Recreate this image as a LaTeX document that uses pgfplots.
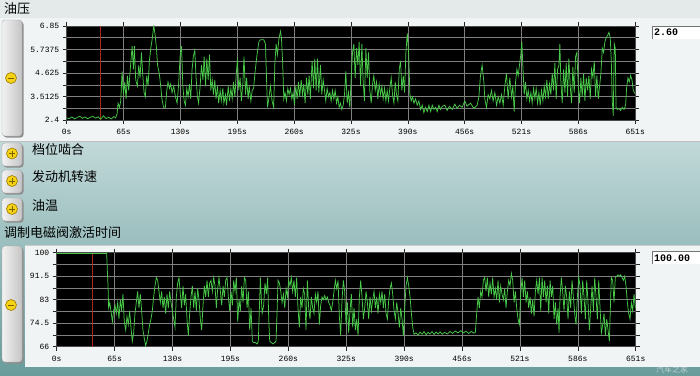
\documentclass[border=0pt]{standalone}
\usepackage{pgfplots}
\pgfplotsset{compat=1.18}
\usepackage{fontspec}
\setmainfont{Liberation Sans}
\setmonofont{Liberation Mono}
\newfontfamily\cjk{Noto Sans CJK SC}
\definecolor{hdrbg}{HTML}{E4EAEA}
\definecolor{panelbg}{HTML}{F1F4F4}
\definecolor{tealtop}{HTML}{C2D9D9}
\definecolor{tealbot}{HTML}{6A9C9C}
\definecolor{btnL}{HTML}{F2F2F2}
\definecolor{btnR}{HTML}{C4C4C4}
\definecolor{yelF}{HTML}{F5D215}
\definecolor{yelD}{HTML}{9A7A00}
\definecolor{gridc}{HTML}{808080}
\definecolor{plotgreen}{RGB}{72,200,72}
\definecolor{redline}{RGB}{170,40,30}
\pgfplotsset{
  monitor/.style={
    scale only axis, height=94pt,
    axis background/.style={fill=black},
    xmin=0, xmax=651,
    xtick={0,65.1,130.2,195.3,260.4,325.5,390.6,455.7,520.8,585.9,651},
    xticklabels={0s,65s,130s,195s,260s,325s,390s,456s,521s,586s,651s},
    grid=both,
    major grid style={gridc, line width=0.5pt},
    minor grid style={gridc, line width=0.5pt},
    tick align=outside,
    major tick length=4pt, minor tick length=4pt,
    tick style={black!85, line width=0.5pt},
    axis line style={black!70, line width=0.5pt},
    ticklabel style={font=\ttfamily\fontsize{8}{9}\selectfont, text=black},
    xticklabel style={yshift=-1.5pt},
  }
}
\begin{document}
\begin{tikzpicture}
\useasboundingbox (0pt,0pt) rectangle (700pt,-375pt);
\begin{scope}[x=1pt,y=-1pt]
  \shade[top color=tealtop, bottom color=tealbot] (0,140) rectangle (700,375);
  \fill[hdrbg] (0,0) rectangle (700,18);
  \fill[panelbg] (0,18) rectangle (700,141);
  \draw[black!25] (0,141) -- (700,141);
  \fill[panelbg] (25,245) rectangle (700,367);
  \draw[black!20] (25,245) -- (700,245);
  \fill[black!45, rounded corners=3pt] (3.5,21.5) rectangle (23.5,137.5);
  \shade[left color=btnL, right color=btnR, rounded corners=3pt] (2,20) rectangle (22,136);
  \draw[black!35, rounded corners=3pt] (2,20) rectangle (22,136);
  \fill[yelF] (11,78) circle (5.5pt);
  \draw[yelD, line width=0.6pt] (11,78) circle (5.5pt);
  \draw[yelD!80!black, line width=1pt] (8,78) -- (14,78);
  \fill[black!45, rounded corners=3pt] (3.5,247.5) rectangle (23.5,363.5);
  \shade[left color=btnL, right color=btnR, rounded corners=3pt] (2,246) rectangle (22,362);
  \draw[black!35, rounded corners=3pt] (2,246) rectangle (22,362);
  \fill[yelF] (11,305) circle (5.5pt);
  \draw[yelD, line width=0.6pt] (11,305) circle (5.5pt);
  \draw[yelD!80!black, line width=1pt] (8,305) -- (14,305);
  \foreach \yt/\yc in {143/153.5, 170/181, 198/209}{
    \fill[black!45, rounded corners=3pt] (3.5,\yt+1.5) rectangle (23.5,\yt+24.5);
    \shade[left color=btnL, right color=btnR, rounded corners=3pt] (2,\yt) rectangle (22,\yt+23);
    \draw[black!35, rounded corners=3pt] (2,\yt) rectangle (22,\yt+23);
    \fill[yelF] (12,\yc) circle (5.5pt);
    \draw[yelD, line width=0.6pt] (12,\yc) circle (5.5pt);
    \draw[yelD!80!black, line width=0.9pt] (9,\yc) -- (15,\yc) (12,\yc-3) -- (12,\yc+3);
  }
  \node[anchor=west, inner sep=0, font=\cjk\fontsize{13}{13}\selectfont] at (4,9) {油压};
  \node[anchor=west, inner sep=0, font=\cjk\fontsize{13}{13}\selectfont] at (32,150) {档位啮合};
  \node[anchor=west, inner sep=0, font=\cjk\fontsize{13}{13}\selectfont] at (32,177) {发动机转速};
  \node[anchor=west, inner sep=0, font=\cjk\fontsize{13}{13}\selectfont] at (32,206) {油温};
  \node[anchor=west, inner sep=0, font=\cjk\fontsize{13}{13}\selectfont] at (4,233) {调制电磁阀激活时间};
  \fill[white] (652,26) rectangle (700,39);
  \draw[black!55] (652,39) -- (652,26) -- (700,26);
  \node[anchor=west, inner sep=0, font=\ttfamily\bfseries\fontsize{10}{10}\selectfont] at (654,32.7) {2.60};
  \fill[white] (652,251) rectangle (700,264);
  \draw[black!55] (652,264) -- (652,251) -- (700,251);
  \node[anchor=west, inner sep=0, font=\ttfamily\bfseries\fontsize{10}{10}\selectfont] at (654,257.7) {100.00};
  \node[text=white, opacity=0.55, inner sep=0, font=\cjk\fontsize{8}{8}\selectfont] at (672,369) {汽车之家};
\end{scope}

\begin{axis}[monitor,
  at={(66.7pt,-120pt)}, anchor=south west, width=568.5pt,
  ymin=2.4, ymax=6.85,
  ytick={2.4,3.5125,4.625,5.7375,6.85},
  yticklabels={2.4,3.5125,4.625,5.7375,6.85},
  minor ytick={2.95625,4.06875,5.18125,6.29375},
]
\addplot[draw=redline, line width=0.9pt] coordinates {(39,2.4) (39,6.85)};
\addplot[draw=plotgreen, line width=0.75pt] coordinates {
(0,2.50)(3,2.47)(6,2.55)(9,2.45)(12,2.52)(15,2.58)(18,2.48)(21,2.54)(24,2.46)(27,2.53)(30,2.57)(33,2.49)(36,2.55)(39,2.44)(42,2.60)(45,2.47)(48,2.53)(51,2.45)(54,2.56)(56,2.50)
(57.7,2.7)(58.8,3.2)(60.4,3.0)(61.9,3.3)(63.4,4.7)(65,3.6)(66.5,4.2)(68,3.4)(69.5,4.5)(71,3.8)(73,4.9)(74.9,5.9)(76.4,4.8)(77.5,5.9)(79,4.3)(81,4.0)(82.5,5.0)(84,4.4)(85.6,5.6)(87,4.6)(88.6,3.7)(90,3.5)(91.7,4.5)(93.2,4.0)(94.7,5.2)(96.3,5.8)(97.8,6.2)(99.7,6.85)(101,6.5)(102.8,5.8)(104,5.0)(106,4.6)(107.7,4.0)(109,3.4)(111,3.0)(113,3.0)(114.6,3.8)(116,4.2)(117.7,3.9)(119,4.1)(120.7,3.7)(122.6,4.0)(124.5,3.5)(126.4,3.2)(128,4.0)(130,5.5)(131.5,5.9)(133,4.0)(134.5,3.3)(136,3.1)(137.5,3.9)(139,3.5)(140.6,4.1)(142,3.4)(143.6,4.8)(145,5.4)(146.7,5.7)(148,4.5)(149.7,3.5)(151,3.2)(152.8,4.0)(154.3,5.0)(156,4.3)(157.4,5.4)(159,4.0)(160.4,5.3)(162,4.3)(163.5,5.5)(165,3.8)(166.6,4.3)(168,3.6)(169.6,4.3)(171,3.4)(172.7,4.0)(174,3.2)(175.7,3.8)(177,3.3)(178.8,3.9)(180,3.2)(181.8,3.6)(183,3.1)(185,4.0)(186.4,3.3)(188,3.9)(189.5,3.4)(191,4.2)(192.6,3.5)(194,4.5)(195.6,5.3)(197,3.8)(198.6,4.4)(200,3.3)(201.7,4.1)(203,5.4)(204.8,3.6)(206,4.4)(207.8,3.4)(209,4.0)(210.9,3.3)(212.4,3.8)
(214,3.9)(216,4.8)(218,5.5)(220,6.1)(221.8,6.2)(223.8,6.2)(225.7,6.2)(227.6,6.0)(228.7,4.5)(229.9,3.0)(231.4,3.4)(233.3,4.0)(235.2,3.3)(237,3.0)(238.3,5.0)(239.8,6.0)(241.3,5.5)(242.9,6.2)(244.8,6.6)(245.9,6.3)(247.4,5.0)(248.6,3.4)(250,3.7)(251.6,3.3)(253.2,3.9)(254.7,3.6)(256.2,3.9)(257.8,3.4)(259.3,3.7)(260.8,3.1)(262.3,4.0)(263.9,3.4)(265.4,4.2)(266.9,3.5)(268.5,4.3)(270,3.6)(271.5,4.1)(273,3.2)(274.6,4.4)(276.1,3.6)(277.6,4.5)(279,3.4)(281,5.2)(282.6,3.9)(284.1,5.3)(285.6,3.8)(287.2,5.3)(288.7,3.7)(290.6,5.0)(292.1,3.6)(293.7,4.3)(295.2,3.8)(296.7,3.3)(298.2,3.9)(299.8,3.5)(301.3,3.7)(302.8,3.3)(304.4,3.8)(305.9,3.4)(307.4,3.8)(309,3.2)(310.5,3.5)(312,3.0)(313.5,3.2)(315,2.9)(316.6,3.1)(318.1,3.6)(319.6,4.7)(321.2,3.2)(322.7,3.7)(324.2,3.0)(325.8,4.4)(327.3,5.6)(328.8,6.0)(330.3,4.4)(331.9,5.8)(333.4,5.0)(334.9,6.1)(336.5,4.0)(338,6.0)(339.5,4.2)(341,3.3)(342.6,5.8)(344.1,4.4)(345.6,5.6)(347.1,3.8)(348.7,3.2)(350.2,4.1)(351.7,4.5)(353.3,3.8)(354.8,4.2)(356.3,3.4)(357.8,4.1)(359.4,3.6)(360.9,4.0)(362.4,3.4)(364,3.9)(365.5,3.3)(367,3.8)(368.5,3.3)(370,3.9)(371.6,4.4)(373.1,3.6)(374.7,3.2)(376.2,4.2)(377.7,3.6)(379.2,3.3)(380.8,4.8)(382.3,5.2)(383.8,3.8)(385.4,4.5)(386.9,3.7)(388.4,5.6)(390,6.5)(391.5,5.6)(393,3.6)(394.5,3.3)(396,3.5)(397.6,3.2)(399.5,3.4)(401.4,3.1)(403.3,3.3)(405.2,2.9)(407.1,3.1)(409,2.75)(410.9,3.0)(412.9,2.8)(414.8,3.1)(416.7,2.8)(418.6,3.1)(420.5,2.9)(422.4,3.0)(424.3,2.8)(426.2,3.1)(428.1,2.9)(430,3.05)(433,3.1)(435.6,2.85)(438.3,3.05)(441.4,2.9)(444.4,3.15)(447.1,2.95)(449.8,3.1)(452.8,3.0)(455.9,3.3)(458.5,3.05)(462.4,3.2)(466.2,2.95)(470,3.1)(472,3.5)(473.8,4.5)(475.7,5.0)(477.7,4.2)(478.8,3.4)(480.7,3.0)(482.6,3.6)(484.5,3.4)(486.4,3.8)(488.3,3.3)(490.3,3.7)(492.2,3.1)(494.1,3.5)(496,3.2)(497.9,3.6)(499.8,3.1)(501.7,4.0)(503.6,4.6)(505.5,3.4)(507.4,4.4)(509.4,3.5)(510.9,4.0)(512.4,2.8)(514,4.2)(515.5,4.8)(517,4.5)(518.5,5.0)(520,5.5)(521.2,6.1)(522.3,5.0)(523.9,3.6)(525.4,4.2)(527,3.4)(528.5,3.8)(530,3.3)(531.5,3.7)(533,3.2)(534.6,3.9)(536.1,3.4)(537.6,3.9)(539.2,3.2)(540.7,3.7)(542.2,3.1)(543.7,3.8)(545.3,3.3)(546.8,4.0)(548.3,3.5)(549.8,4.3)(551.4,3.4)(552.9,4.1)(554.4,3.6)(556,4.6)(557.5,3.8)(559,5.1)(560.5,3.4)(562.1,4.8)(563.6,5.0)(564.7,6.0)(565.9,4.2)(567.4,3.2)(569,4.8)(570.5,3.7)(572,5.1)(573.5,3.5)(575,5.3)(576.6,4.0)(578.1,3.2)(579.6,4.9)(581.2,3.7)(582.7,5.4)(584.2,5.6)(585.8,4.0)(587.3,3.2)(588.8,4.4)(590.3,3.5)(591.9,4.6)(593.4,3.3)(594.9,4.4)(596.5,3.8)(598,4.5)(599.5,3.4)(601,4.8)(602.6,4.4)(604.1,5.2)(605.6,3.5)(607.1,4.5)(608.7,3.4)(610.2,4.0)(611.7,4.6)(613.3,5.8)(614.8,5.6)(616.3,6.1)(617.8,6.3)(619.4,6.4)(620.9,6.55)(622.4,6.3)(623.6,5.2)(624.7,3.3)(625.9,2.6)(627,6.0)(628.2,5.8)(629,3.0)(630.5,2.9)(632.4,2.95)(634.3,2.85)(636.2,3.0)(638.2,2.9)(640,3.1)(641.1,3.9)(642.7,4.4)(644.2,4.2)(645.7,4.5)(647.3,4.3)(648.8,3.8)(650,3.7)(651,3.65)
};
\end{axis}

\begin{axis}[monitor,
  at={(56.7pt,-346.7pt)}, anchor=south west, width=579pt,
  ymin=66, ymax=100,
  ytick={66,74.5,83,91.5,100},
  yticklabels={66,74.5,83,91.5,100},
  minor ytick={70.25,78.75,87.25,95.75},
]
\addplot[draw=redline, line width=0.9pt] coordinates {(39.7,66) (39.7,100)};
\addplot[draw=plotgreen, line width=0.75pt] coordinates {
(0,99.7)(56.2,99.7)(57,93)(57.7,88)(58.4,80)(59.6,82)(61,79)(62.6,75)(64,79)(65.6,81)(67,78)(68.6,82)(70,76)(71.5,83)(73,79)(74.5,85)(76,75)(77.6,72)(79,77)(80.5,74)(82,79)(83.5,73)(85,68)(86.5,71)(88,78)(89.5,82)(91,86)(92.5,80)(94,85)(95.5,79)(97,72)(98.5,69)(100,66.3)(101.5,68)(103,71)(104.5,74)(106,76)(107.5,79)(109,84)(110.5,88)(112,91)(113.5,90)(115,86)(116.5,82)(118,86)(119.5,80)(121,84)(122.5,78)(124,85)(125.5,80)(127,86)(128.5,82)(130,79)(131.5,76)(133,73)(134.5,84)(136,89)(137.5,91)(139,85)(140.5,80)(142,88)(143.5,81)(145,85)(146.5,76)(148,70)(149.5,78)(151,84)(152.5,88)(154,80)(155.5,86)(157,79)(158.5,87)(160,83)(161.5,76)(163,72)(164.5,81)(166,88)(167.5,84)(169,90)(170.5,84)(172,89)(173.5,90)(175,86)(176.5,91)(178,88)(179.5,80)(181,87)(182.5,91)(184,86)(185.5,81)(187,88)(188.5,84)(190,90)(191.5,91)(193,84)(194.5,79)(196,86)(197.5,81)(199,90)(200.5,86)(202,91)(203.5,75)(205,83)(206.5,79)(208,88)(209.5,82)(211,91)(212.5,90)(214,80)(215.5,86)(217,72)(218.5,80)(220,68)(221.5,67.5)(223.4,67.5)(225.2,67)(226.7,68)(227.9,80)(229,91)(230,84)(231,78)(232.7,81)(234.2,89)(235.7,85)(237.2,91)(238.4,76)(239.5,68)(241.4,67.5)(243.2,67)(245.1,67.5)(246.6,68)(247.7,78)(248.9,90)(250.4,89)(251.9,86)(253.4,82)(254.9,85)(256.4,80)(257.9,87)(259.4,84)(260.8,90)(262.3,88)(263.8,91)(265.3,86)(266.8,90)(268.3,84)(269.8,91)(271.3,80)(272.8,73)(274.3,84)(275.8,80)(277.3,87)(278.8,85)(280.3,72)(281.8,90)(283.3,80)(284.8,76)(286.3,84)(287.8,80)(289.3,78)(290.8,85)(292.3,82)(293.8,86)(295.3,74)(296.8,81)(298.3,84)(299.8,83)(301.3,84.5)(302.8,83)(304.3,84)(305.8,82)(307.3,81)(308.8,79)(310.3,82)(311.8,86)(313.3,90)(314.8,87)(316.3,90)(317.8,77)(319.3,70)(320.8,83)(322.3,90)(323.8,86)(325.3,74)(326.8,82)(328.3,71)(329.8,79)(331.3,85)(332.8,73)(334.3,80)(335.8,72)(337.3,76)(338.8,70)(340.3,84)(341.8,90)(343.3,84)(344.8,76)(346.3,80)(347.8,86)(349.3,82)(350.8,76)(352.3,84)(353.8,79)(355.3,83)(356.8,86)(358.3,80)(359.8,84)(361.3,78)(362.8,85)(364.3,82)(365.8,86)(367.3,80)(368.8,85)(370.3,78)(371.8,76)(373.3,83)(374.8,87)(376.3,89)(377.8,85)(379.3,79)(380.8,76)(382.3,82)(383.8,78)(385.3,73)(386.8,80)(388.3,76)(389.8,70)(391.3,80)(392.8,88)(394.3,91)(395.8,88)(397.3,84)(398.8,78)(400.3,73)(401.8,70.5)(404,71)(406.3,70.2)(408.5,71.3)(410.8,70.5)(413,71.5)(415.3,70.3)(417.5,71.2)(419.8,70.6)(422,71.5)(424.3,70.4)(426.5,71.3)(428.8,70.6)(431,71.4)(433.3,70.5)(436.2,71.2)(439.2,70.6)(442.2,71.5)(445.2,70.8)(448.2,71.7)(451.2,71)(454.2,71.8)(457.2,71)(460.2,71.6)(463.2,70.8)(466.2,71.5)(469.2,70.9)(470.7,71.2)(472.2,78)(473.7,84)(475.2,80)(476.7,86)(478.2,84)(479.7,90)(481.2,91)(482.7,86)(484.2,91)(485.7,84)(487.2,89)(488.7,85)(490.2,91)(491.7,84)(493.2,87)(494.7,83)(496.2,90)(497.7,82)(499.2,88)(500.7,85)(502.2,83)(503.7,87)(505.2,80)(506.7,86)(508.2,90)(509.7,88)(511.2,92.5)(512.7,90)(514.2,82)(515.7,86)(517.2,80)(518.7,76)(520.2,74)(521.7,85)(523.2,91)(524.7,84)(526.2,90)(527.7,82)(529.2,86)(530.7,80)(532.2,84)(533.7,78)(535.2,83)(536.7,77)(538.2,86)(539.7,90)(541.2,85)(542.7,91)(544.2,79)(545.7,91)(547.2,84)(548.7,90)(550.2,82)(551.7,88)(553.2,78)(554.7,90)(556.2,84)(557.7,88)(559.2,76)(560.7,82)(562.2,74)(563.7,80)(564.8,71)(565.9,84)(567.4,91)(568.9,86)(570.4,79)(571.9,88)(573.4,84)(574.9,76)(576.4,86)(577.9,80)(579.4,90)(580.9,84)(582.4,78)(583.9,74)(585.4,84)(586.9,91)(588.4,88)(589.9,78)(591.4,90)(592.9,84)(594.4,76)(595.9,90)(597.4,82)(598.9,72)(600.4,80)(601.9,88)(603.4,79)(604.9,91)(606.4,84)(607.9,76)(609.4,90)(610.9,80)(612.4,71)(613.9,74)(615.4,78)(616.9,70)(618.4,76)(619.9,72)(621.4,68)(622.5,80)(623.6,91)(625.1,90)(626.6,82)(628.1,91)(629.6,91.5)(631.1,92)(632.6,91.5)(634.1,92)(635.6,91)(637.1,90)(638.6,91.5)(640.1,88)(641.6,82)(643.1,78)(644.6,76)(646.1,82)(647.6,79)(649.1,85)(650.6,80)
};
\end{axis}
\end{tikzpicture}
\end{document}
